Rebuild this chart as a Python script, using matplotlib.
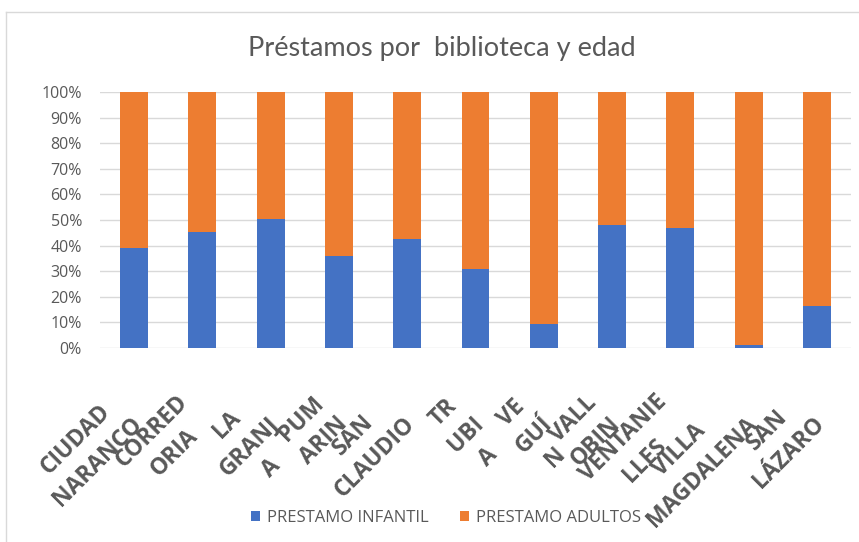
import matplotlib
matplotlib.use("Agg")
import matplotlib.pyplot as plt
import matplotlib.transforms as mtransforms
import numpy as np
from matplotlib.lines import Line2D

bibliotecas = [
    "CIUDAD\nNARANCO", "CORRED\nORIA", "LA\nGRANJ\nA", "PUM\nARIN", "SAN\nCLAUDIO",
    "TR\nUBI\nA", "VE\nGUÍ\nN", "VALL\nOBIN", "VENTANIE\nLLES", "VILLA\nMAGDALENA",
    "SAN\nLÁZARO",
]
infantil = [39.0, 45.3, 50.5, 36.0, 42.6, 31.0, 9.5, 48.0, 47.0, 1.0, 16.5]
adultos = [100 - v for v in infantil]

AZUL = "#4472C4"
NARANJA = "#ED7D31"
GRIS = "#595959"

fig = plt.figure(figsize=(8.59, 5.42), dpi=100)
ax = fig.add_axes([100 / 859, 1 - 348 / 542, 751 / 859, 256 / 542])

x = np.arange(len(bibliotecas))
w = 0.41
ax.bar(x, infantil, w, color=AZUL, label="PRESTAMO INFANTIL", zorder=3)
ax.bar(x, adultos, w, bottom=infantil, color=NARANJA, label="PRESTAMO ADULTOS", zorder=3)

ax.set_xlim(-0.5, len(bibliotecas) - 0.5)
ax.set_ylim(0, 100)
ax.set_yticks(range(0, 101, 10))
ax.set_yticklabels([f"{v}%" for v in range(0, 101, 10)], color=GRIS,
                   fontsize=11.5, family="Open Sans")
ax.yaxis.grid(True, color="#D9D9D9", linewidth=1, zorder=0)
for s in ax.spines.values():
    s.set_visible(False)
ax.tick_params(axis="both", length=0)
ax.tick_params(axis="y", pad=13)

# etiquetas giradas 45º, desplazadas a la izquierda y hacia abajo del tick
ax.set_xticks(x)
ax.set_xticklabels(bibliotecas, rotation=45, ha="right", va="top",
                   rotation_mode="anchor", multialignment="center",
                   fontsize=16.5, fontweight="bold", color=GRIS, family="Open Sans",
                   linespacing=1.4)
ax.tick_params(axis="x", pad=0)
desplaza = mtransforms.ScaledTranslation(-26 / 100, -42 / 100, fig.dpi_scale_trans)
for lbl in ax.get_xticklabels():
    lbl.set_transform(lbl.get_transform() + desplaza)

fig.text(0.514, 0.911, "Préstamos por  biblioteca y edad", ha="center", va="center",
         fontsize=19.5, color=GRIS, family="Lato")

leg = ax.legend(loc="center", bbox_to_anchor=(0.519, 0.044), bbox_transform=fig.transFigure,
                ncol=2, frameon=False, handlelength=0.55, handleheight=0.55,
                columnspacing=1.9, handletextpad=0.4,
                prop={"family": "Open Sans", "size": 12})
for t in leg.get_texts():
    t.set_color(GRIS)

# marco del gráfico (bordes superior e izquierdo)
fig.add_artist(Line2D([6 / 859, 1], [1 - 12 / 542] * 2, transform=fig.transFigure,
                      color="#D9D9D9", linewidth=1))
fig.add_artist(Line2D([6 / 859] * 2, [0, 1 - 12 / 542], transform=fig.transFigure,
                      color="#D9D9D9", linewidth=1))

fig.savefig("out.png", dpi=100)
